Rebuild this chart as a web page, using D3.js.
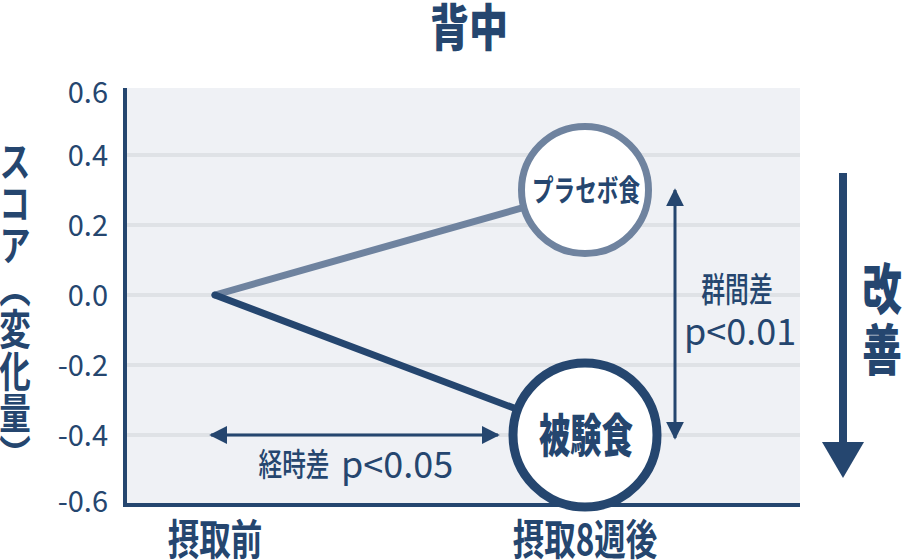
<!DOCTYPE html>
<html>
<head>
<meta charset="utf-8">
<script src="https://cdn.jsdelivr.net/npm/d3@7"></script>
<style>
  body { margin: 0; background: #fff; }
  svg text { font-family: "Noto Sans CJK JP", "Noto Sans", sans-serif; }
</style>
</head>
<body>
<div id="chart"></div>
<script>
// chart values
var categories = ["摂取前", "摂取8週後"];
var groupNames = ["プラセボ食", "被験食"];
var placeboValues = [0.0, 0.30];
var testValues = [0.0, -0.40];
var yTicks = [0.6, 0.4, 0.2, 0.0, -0.2, -0.4, -0.6];

var dark = "#25466f", light = "#6f839f";

var svg = d3.select("#chart")
  .append("svg")
  .attr("width", 905)
  .attr("height", 560);

// scales
var x = d3.scalePoint().domain(categories).range([215, 585]);
var y = d3.scaleLinear().domain([-0.6, 0.6]).range([505, 85]);

var plotLeft = 125, plotRight = 800, plotTop = 88;

// condensed CJK text helper
function cjk(px, py, str, size, weight, sx) {
  return svg.append("text")
    .attr("transform", "translate(" + px + "," + py + ") scale(" + sx + ",1)")
    .attr("text-anchor", "middle")
    .style("font-size", size + "px")
    .style("font-weight", weight)
    .style("fill", dark)
    .text(str);
}

// plot background
svg.append("rect")
  .attr("x", plotLeft).attr("y", plotTop)
  .attr("width", plotRight - plotLeft).attr("height", y(-0.6) - plotTop)
  .style("fill", "#eff1f5");

// gridlines
svg.append("g")
  .selectAll("line")
  .data(yTicks.filter(function(d) { return Math.abs(d) < 0.55; }))
  .enter().append("line")
  .attr("x1", plotLeft).attr("x2", plotRight)
  .attr("y1", function(d) { return y(d); })
  .attr("y2", function(d) { return y(d); })
  .style("stroke", "#dfe2e6")
  .style("stroke-width", 4);

// y tick labels
svg.append("g")
  .selectAll("text")
  .data(yTicks)
  .enter().append("text")
  .attr("x", 108)
  .attr("y", function(d) { return Math.min(Math.max(y(d) + 1, 93), 502); })
  .attr("dy", "0.36em")
  .attr("text-anchor", "end")
  .style("font-size", "29px")
  .style("fill", dark)
  .text(function(d) { return d.toFixed(1); });

// axis lines
svg.append("path")
  .attr("d", "M" + plotLeft + "," + plotTop + "V" + y(-0.6) + "H" + plotRight)
  .style("fill", "none")
  .style("stroke", dark)
  .style("stroke-width", 4);

// category labels
categories.forEach(function(c) {
  cjk(x(c), 555, c, 42, "bold", 0.75);
});

// lines
var line = d3.line()
  .x(function(d, i) { return x(categories[i]); })
  .y(function(d) { return y(d); });

svg.append("path").datum(placeboValues)
  .attr("d", line)
  .style("fill", "none").style("stroke", light).style("stroke-width", 7)
  .style("stroke-linecap", "round");
svg.append("path").datum(testValues)
  .attr("d", line)
  .style("fill", "none").style("stroke", dark).style("stroke-width", 7)
  .style("stroke-linecap", "round");

// end circles
var ends = [
  {name: groupNames[0], v: placeboValues[1], r: 63.5, sw: 7, c: light, fs: 30, fw: "bold", sx: 0.72, by: 11},
  {name: groupNames[1], v: testValues[1], r: 72, sw: 9, c: dark, fs: 46, fw: 900, sx: 0.68, by: 17}
];
ends.forEach(function(d) {
  var cx = x(categories[1]), cy = y(d.v);
  svg.append("circle")
    .attr("cx", cx).attr("cy", cy)
    .attr("r", d.r)
    .style("fill", "#fff")
    .style("stroke", d.c)
    .style("stroke-width", d.sw);
  cjk(cx + 1, cy + d.by, d.name, d.fs, d.fw, d.sx);
});

// arrowheads
var defs = svg.append("defs");
defs.append("marker")
  .attr("id", "head")
  .attr("viewBox", "0 0 10 10")
  .attr("refX", 9).attr("refY", 5)
  .attr("markerWidth", 6).attr("markerHeight", 6)
  .attr("markerUnits", "strokeWidth")
  .attr("orient", "auto-start-reverse")
  .append("path")
  .attr("d", "M0,0L10,5L0,10Z")
  .style("fill", dark);

// time difference arrow
var ty = y(testValues[1]);
svg.append("line")
  .attr("x1", 211).attr("x2", 498)
  .attr("y1", ty).attr("y2", ty)
  .style("stroke", dark).style("stroke-width", 3)
  .attr("marker-start", "url(#head)")
  .attr("marker-end", "url(#head)");
cjk(294, 476, "経時差", 32, 500, 0.74);
svg.append("text")
  .attr("x", 341).attr("y", 478)
  .style("font-size", "36px")
  .style("fill", dark)
  .text("p<0.05");

// group difference arrow
svg.append("line")
  .attr("x1", 675).attr("x2", 675)
  .attr("y1", 190).attr("y2", 438)
  .style("stroke", dark).style("stroke-width", 3)
  .attr("marker-start", "url(#head)")
  .attr("marker-end", "url(#head)");
cjk(737, 302, "群間差", 34, 500, 0.7);
svg.append("text")
  .attr("x", 740).attr("y", 345)
  .attr("text-anchor", "middle")
  .style("font-size", "36px")
  .style("fill", dark)
  .text("p<0.01");

// improvement arrow
svg.append("line")
  .attr("x1", 843).attr("x2", 843)
  .attr("y1", 173).attr("y2", 445)
  .style("stroke", dark).style("stroke-width", 8);
svg.append("path")
  .attr("d", "M822,442L864,442L843,478Z")
  .style("fill", dark);
cjk(882, 309, "改", 55, 900, 0.72);
cjk(882, 370, "善", 55, 900, 0.72);

// title
cjk(469, 46, "背中", 50, 900, 0.78);

// y axis title
svg.append("text")
  .attr("transform", "translate(15,140) scale(0.75,1)")
  .style("writing-mode", "vertical-rl")
  .style("font-size", "42px")
  .style("font-weight", "bold")
  .style("fill", dark)
  .text("スコア（変化量）");
</script>
</body>
</html>
